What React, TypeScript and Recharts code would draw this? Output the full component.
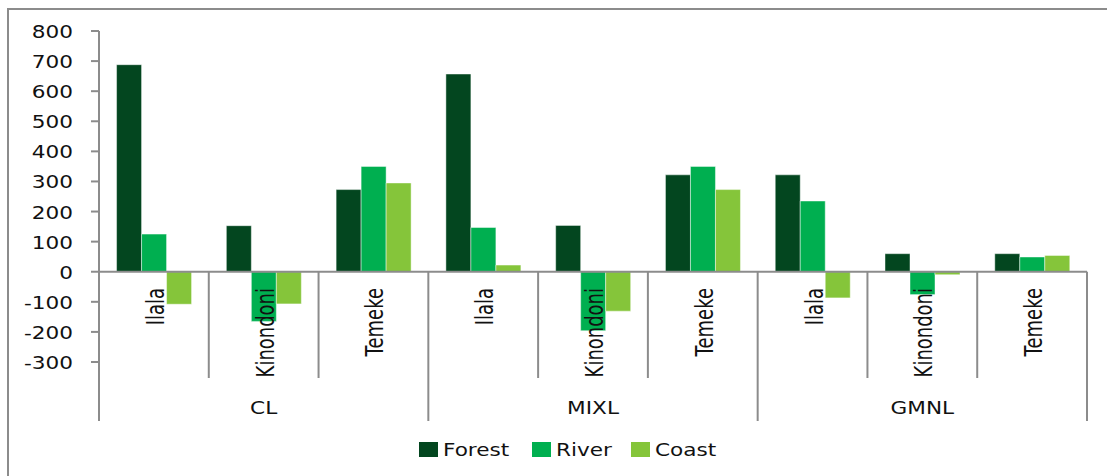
import { BarChart, Bar, XAxis, YAxis, ReferenceLine } from "recharts";

const sites = ["Ilala", "Kinondoni", "Temeke", "Ilala", "Kinondoni", "Temeke", "Ilala", "Kinondoni", "Temeke"];
const groups = ["CL", "MIXL", "GMNL"];
const forest = [688, 153, 273, 657, 154, 322, 322, 60, 60];
const river = [125, -165, 350, 147, -196, 350, 235, -76, 49];
const coast = [-108, -107, 295, 22, -131, 273, -87, -10, 54];
const yTicks = [-300, -200, -100, 0, 100, 200, 300, 400, 500, 600, 700, 800];

const series = [
  { key: "forest", name: "Forest", color: "#03461F" },
  { key: "river", name: "River", color: "#00AF50" },
  { key: "coast", name: "Coast", color: "#85C53A" },
];

const data = sites.map((site, i) => ({
  id: i,
  site,
  forest: forest[i],
  river: river[i],
  coast: coast[i],
}));

// layout
const W = 1107;
const H = 476;
const TOP = 31;
const LEFT = 99;
const RIGHT = 20;
const PLOT_H = 331;
const Y_MIN = -300;
const Y_MAX = 800;
const zeroY = TOP + (PLOT_H * Y_MAX) / (Y_MAX - Y_MIN);
const band = (W - LEFT - RIGHT) / sites.length;
const GRAY = "#8c8c8c";
const FONT = "'DejaVu Sans', sans-serif";

function YTick(props: any) {
  const { y, payload } = props;
  return (
    <text
      transform={`translate(73, ${y + 7}) scale(1.2, 1)`}
      textAnchor="end"
      fontFamily={FONT}
      fontSize={18}
      fill="#111"
    >
      {payload.value}
    </text>
  );
}

function SiteTick(props: any) {
  const { x, index } = props;
  const left = x - band / 2;
  const right = x + band / 2;
  const groupStart = index % 3 === 0;
  return (
    <g>
      <line x1={left} x2={left} y1={zeroY} y2={groupStart ? 421 : 378} stroke={GRAY} strokeWidth={2} />
      {index === sites.length - 1 && (
        <line x1={right} x2={right} y1={zeroY} y2={421} stroke={GRAY} strokeWidth={2} />
      )}
      <text
        transform={`translate(${x + 10}, 288) scale(1.4, 1) rotate(-90)`}
        textAnchor="end"
        fontFamily={FONT}
        fontSize={18}
        fill="#111"
      >
        {sites[index]}
      </text>
      {index % 3 === 1 && (
        <text
          transform={`translate(${x}, 414) scale(1.2, 1)`}
          textAnchor="middle"
          fontFamily={FONT}
          fontSize={18}
          fill="#111"
        >
          {groups[Math.floor(index / 3)]}
        </text>
      )}
    </g>
  );
}

const legendX = [419, 532, 631];

export default function App() {
  return (
    <div style={{ position: "absolute", left: 0, top: 0, width: W, height: H, background: "#fff", overflow: "hidden" }}>
      <div
        style={{
          position: "absolute",
          left: 7,
          top: 8,
          width: 1200,
          height: 600,
          borderTop: `2px solid ${GRAY}`,
          borderLeft: `2px solid ${GRAY}`,
        }}
      />
      <div style={{ position: "absolute", left: 0, top: 0 }}>
        <BarChart
          width={W}
          height={H}
          data={data}
          margin={{ top: TOP, right: RIGHT, left: 0, bottom: H - TOP - PLOT_H - 30 }}
          barCategoryGap="16%"
          barGap={0}
        >
          <XAxis
            dataKey="id"
            type="category"
            height={30}
            interval={0}
            axisLine={false}
            tickLine={false}
            tick={(p: any) => <SiteTick {...p} />}
          />
          <YAxis
            width={LEFT}
            domain={[Y_MIN, Y_MAX]}
            ticks={yTicks}
            interval={0}
            axisLine={{ stroke: GRAY, strokeWidth: 2 }}
            tickLine={{ stroke: GRAY, strokeWidth: 2 }}
            tickSize={8}
            tick={(p: any) => <YTick {...p} />}
          />
          {series.map((s) => (
            <Bar
              key={s.key}
              dataKey={s.key}
              name={s.name}
              fill={s.color}
              stroke="#ffffff"
              strokeOpacity={0.45}
              strokeWidth={1}
              isAnimationActive={false}
            />
          ))}
          <ReferenceLine y={0} stroke={GRAY} strokeWidth={2} />
        </BarChart>
      </div>
      <svg style={{ position: "absolute", left: 0, top: 0 }} width={W} height={H}>
        {series.map((s, i) => (
          <g key={s.key}>
            <rect x={legendX[i]} y={442} width={19} height={15} fill={s.color} />
            <text
              transform={`translate(${legendX[i] + 24}, 456) scale(1.2, 1)`}
              fontFamily={FONT}
              fontSize={18}
              fill="#111"
            >
              {s.name}
            </text>
          </g>
        ))}
      </svg>
    </div>
  );
}
